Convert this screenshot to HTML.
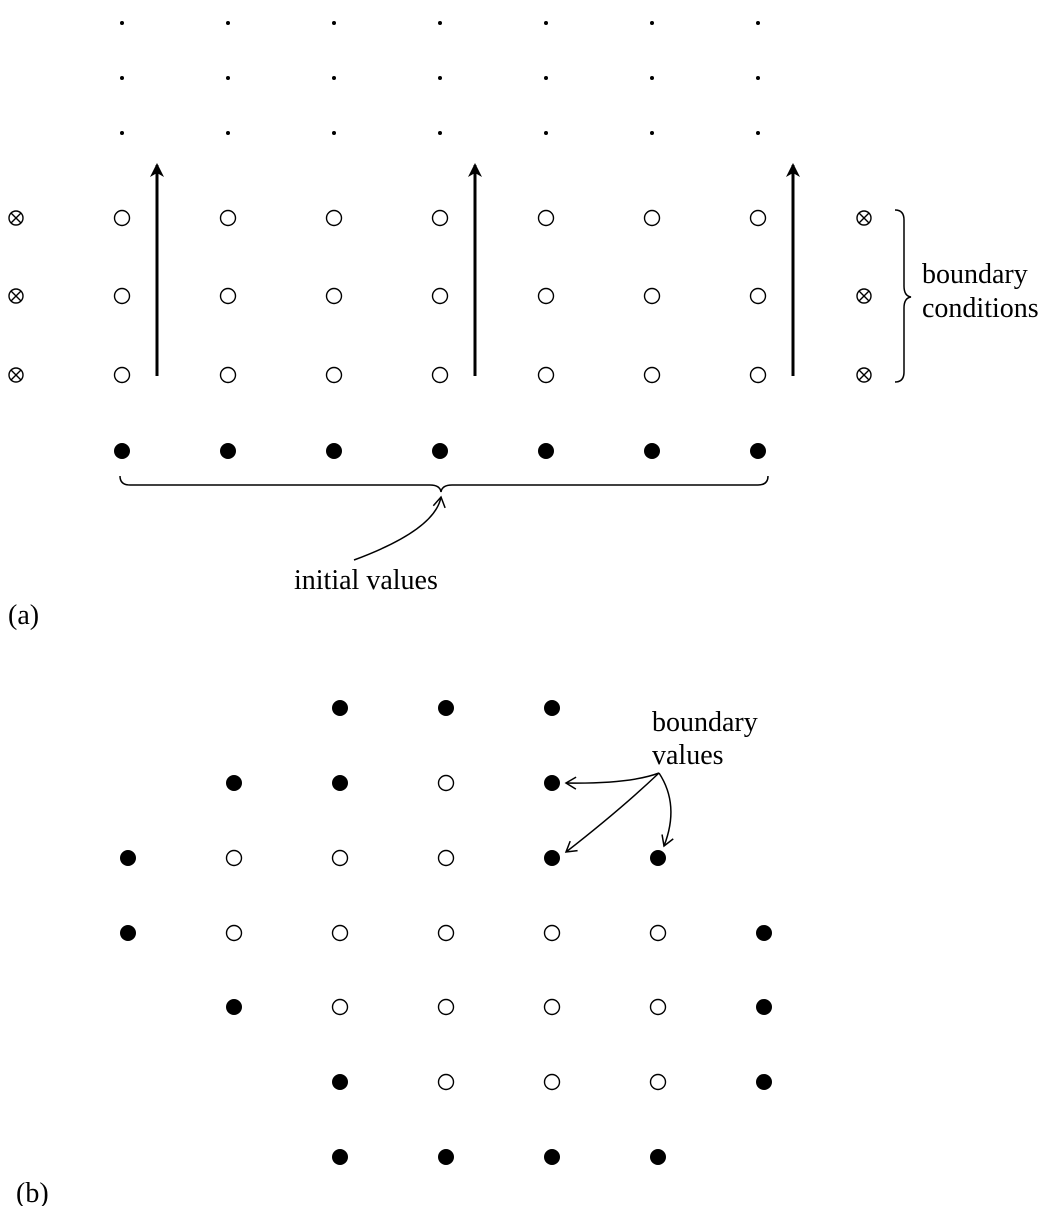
<!DOCTYPE html>
<html><head><style>body{margin:0;background:#fff}svg{display:block}text{font-family:"Liberation Serif",serif;font-size:28px;fill:#000}</style></head>
<body>
<svg width="1038" height="1206" viewBox="0 0 1038 1206" xmlns="http://www.w3.org/2000/svg">
<defs>
<marker id="ah" markerWidth="14" markerHeight="14" refX="12" refY="7" orient="auto" markerUnits="userSpaceOnUse"><path d="M0,0 L14,7 L0,14 L4,7 Z" fill="#000"/></marker>
<marker id="oa" markerWidth="14" markerHeight="14" refX="12" refY="7" orient="auto" markerUnits="userSpaceOnUse"><path d="M2,1 L12,7 L2,13" fill="none" stroke="#000" stroke-width="1.5"/></marker>
</defs>
<g id="a">
<g fill="#000">
<circle cx="122" cy="23" r="2"/><circle cx="228" cy="23" r="2"/><circle cx="334" cy="23" r="2"/><circle cx="440" cy="23" r="2"/><circle cx="546" cy="23" r="2"/><circle cx="652" cy="23" r="2"/><circle cx="758" cy="23" r="2"/>
<circle cx="122" cy="78" r="2"/><circle cx="228" cy="78" r="2"/><circle cx="334" cy="78" r="2"/><circle cx="440" cy="78" r="2"/><circle cx="546" cy="78" r="2"/><circle cx="652" cy="78" r="2"/><circle cx="758" cy="78" r="2"/>
<circle cx="122" cy="133" r="2"/><circle cx="228" cy="133" r="2"/><circle cx="334" cy="133" r="2"/><circle cx="440" cy="133" r="2"/><circle cx="546" cy="133" r="2"/><circle cx="652" cy="133" r="2"/><circle cx="758" cy="133" r="2"/>
</g>
<g fill="none" stroke="#000" stroke-width="1.4">
<circle cx="122" cy="218" r="7.5"/><circle cx="228" cy="218" r="7.5"/><circle cx="334" cy="218" r="7.5"/><circle cx="440" cy="218" r="7.5"/><circle cx="546" cy="218" r="7.5"/><circle cx="652" cy="218" r="7.5"/><circle cx="758" cy="218" r="7.5"/>
<circle cx="122" cy="296" r="7.5"/><circle cx="228" cy="296" r="7.5"/><circle cx="334" cy="296" r="7.5"/><circle cx="440" cy="296" r="7.5"/><circle cx="546" cy="296" r="7.5"/><circle cx="652" cy="296" r="7.5"/><circle cx="758" cy="296" r="7.5"/>
<circle cx="122" cy="375" r="7.5"/><circle cx="228" cy="375" r="7.5"/><circle cx="334" cy="375" r="7.5"/><circle cx="440" cy="375" r="7.5"/><circle cx="546" cy="375" r="7.5"/><circle cx="652" cy="375" r="7.5"/><circle cx="758" cy="375" r="7.5"/>
<g id="ot"><circle cx="16" cy="218" r="7"/><path d="M11,213 L21,223 M21,213 L11,223"/></g>
<use href="#ot" y="78"/><use href="#ot" y="157"/>
<use href="#ot" x="848"/><use href="#ot" x="848" y="78"/><use href="#ot" x="848" y="157"/>
</g>
<g fill="#000">
<circle cx="122" cy="451" r="8"/><circle cx="228" cy="451" r="8"/><circle cx="334" cy="451" r="8"/><circle cx="440" cy="451" r="8"/><circle cx="546" cy="451" r="8"/><circle cx="652" cy="451" r="8"/><circle cx="758" cy="451" r="8"/>
</g>
<g stroke="#000" stroke-width="3" fill="none">
<line x1="157" y1="376" x2="157" y2="165" marker-end="url(#ah)"/>
<line x1="475" y1="376" x2="475" y2="165" marker-end="url(#ah)"/>
<line x1="793" y1="376" x2="793" y2="165" marker-end="url(#ah)"/>
</g>
<g stroke="#000" stroke-width="1.5" fill="none">
<path d="M120,476 Q120,485 130,485 L430,485 Q440,485 441,492 Q442,485 452,485 L758,485 Q768,485 768,476"/>
<path d="M895,210 Q904,210 904,220 L904,286 Q904,296 911,297 Q904,298 904,308 L904,372 Q904,382 895,382"/>
<path d="M354,560 Q435,530 441,497" marker-end="url(#oa)"/>
</g>
<text x="922" y="283">boundary</text>
<text x="922" y="317">conditions</text>
<text x="294" y="589">initial values</text>
<text x="8" y="624">(a)</text>
</g>
<g id="b">
<g fill="#000">
<circle cx="340" cy="708" r="8"/><circle cx="446" cy="708" r="8"/><circle cx="552" cy="708" r="8"/>
<circle cx="234" cy="783" r="8"/><circle cx="340" cy="783" r="8"/><circle cx="552" cy="783" r="8"/>
<circle cx="128" cy="858" r="8"/><circle cx="552" cy="858" r="8"/><circle cx="658" cy="858" r="8"/>
<circle cx="128" cy="933" r="8"/><circle cx="764" cy="933" r="8"/>
<circle cx="234" cy="1007" r="8"/><circle cx="764" cy="1007" r="8"/>
<circle cx="340" cy="1082" r="8"/><circle cx="764" cy="1082" r="8"/>
<circle cx="340" cy="1157" r="8"/><circle cx="446" cy="1157" r="8"/><circle cx="552" cy="1157" r="8"/><circle cx="658" cy="1157" r="8"/>
</g>
<g fill="none" stroke="#000" stroke-width="1.4">
<circle cx="446" cy="783" r="7.5"/>
<circle cx="234" cy="858" r="7.5"/><circle cx="340" cy="858" r="7.5"/><circle cx="446" cy="858" r="7.5"/>
<circle cx="234" cy="933" r="7.5"/><circle cx="340" cy="933" r="7.5"/><circle cx="446" cy="933" r="7.5"/><circle cx="552" cy="933" r="7.5"/><circle cx="658" cy="933" r="7.5"/>
<circle cx="340" cy="1007" r="7.5"/><circle cx="446" cy="1007" r="7.5"/><circle cx="552" cy="1007" r="7.5"/><circle cx="658" cy="1007" r="7.5"/>
<circle cx="446" cy="1082" r="7.5"/><circle cx="552" cy="1082" r="7.5"/><circle cx="658" cy="1082" r="7.5"/>
</g>
<g stroke="#000" stroke-width="1.5" fill="none">
<path d="M659,773 Q630,784 566,783" marker-end="url(#oa)"/>
<path d="M659,773 Q620,810 566,852" marker-end="url(#oa)"/>
<path d="M659,773 Q680,805 664,846" marker-end="url(#oa)"/>
</g>
<text x="652" y="731">boundary</text>
<text x="652" y="764">values</text>
<text x="16" y="1202">(b)</text>
</g>
</svg>
</body></html>
